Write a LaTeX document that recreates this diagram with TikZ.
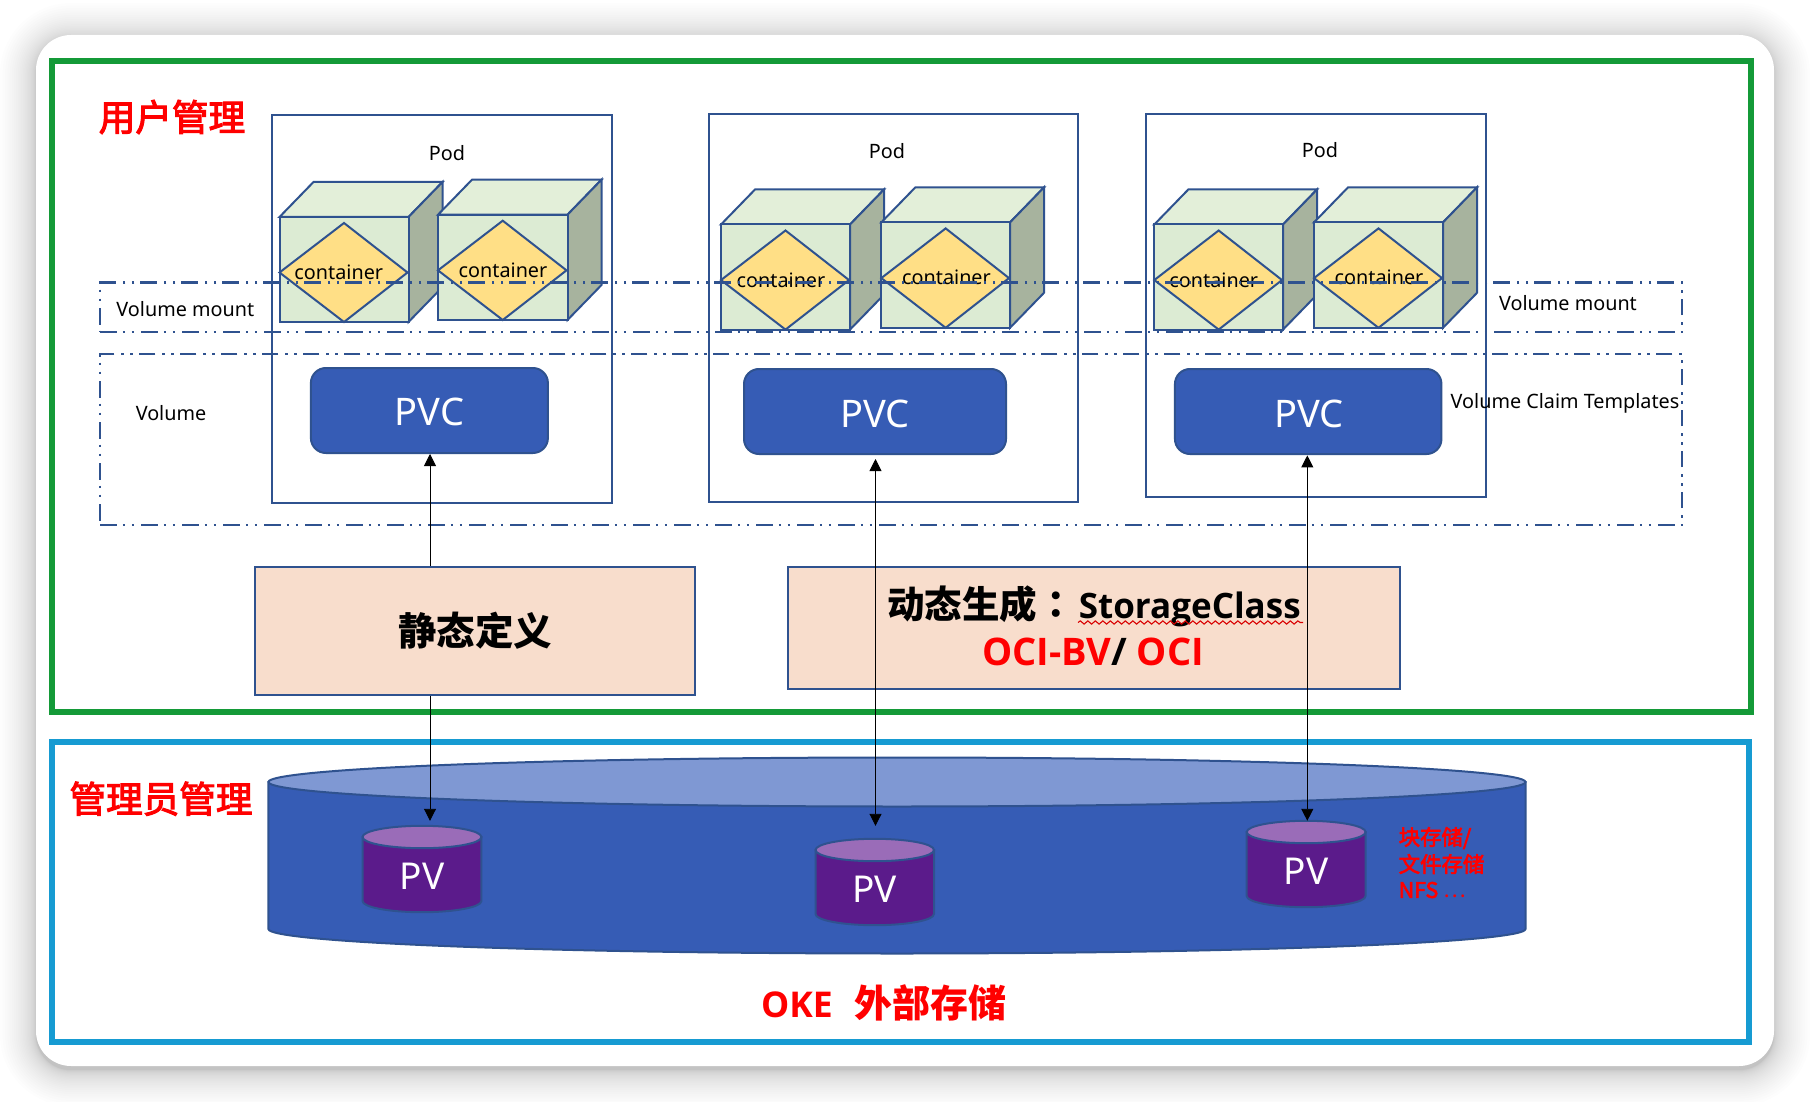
\documentclass[tikz,border=0pt]{standalone}
\usepackage{fontspec}
\setmainfont{Noto Sans}
\newfontfamily\cjk{Noto Sans CJK SC}
\newfontfamily\cjktc{Noto Sans CJK TC}
\newfontfamily\cjkfb[FakeBold=3]{Noto Sans CJK SC}
\newfontfamily\latb{Open Sans}
\usetikzlibrary{arrows.meta,decorations.pathmorphing}
\definecolor{edgeblue}{HTML}{2F528F}
\definecolor{framegreen}{HTML}{149A38}
\definecolor{framecyan}{HTML}{169BD2}
\definecolor{cubefront}{HTML}{DCEBD3}
\definecolor{cubetop}{HTML}{E3EFD9}
\definecolor{cubeside}{HTML}{A7B39E}
\definecolor{gold}{HTML}{FFDF86}
\definecolor{peach}{HTML}{F8DDCC}
\definecolor{pvcblue}{HTML}{365CB5}
\definecolor{disctop}{HTML}{7F98D3}
\definecolor{pvpurple}{HTML}{5B1B8B}
\definecolor{pvtop}{HTML}{9A6CB8}
\newcommand{\fs}[1]{\fontsize{#1}{#1}\selectfont}
\tikzset{
  edge/.style={draw=edgeblue,line width=2pt},
  podbox/.style={edge,fill=none},
  dashbox/.style={draw=edgeblue,line width=2.3pt,dash pattern=on 16.5pt off 6pt on 2.5pt off 6.5pt on 2.5pt off 7pt},
  smalltxt/.style={font=\fs{19.8},text=black,inner sep=0pt},
  pvctxt/.style={font=\fs{38},text=white,inner sep=0pt},
  pvtxt/.style={font=\fs{37},text=white,inner sep=0pt},
  redhead/.style={font=\cjkfb\fs{36.6},text=red,inner sep=0pt},
  link/.style={draw=black,line width=0.9pt,-{Triangle[length=12pt,width=12pt]}},
  linkboth/.style={draw=black,line width=0.9pt,{Triangle[length=12pt,width=12pt]}-{Triangle[length=12pt,width=12pt]}},
}
% cube: x1 x2 (front), y1 y2 (front), label x, label y, name
\newcommand{\cubeshape}[7]{%
  \pgfmathsetmacro{\bx}{#1+34}\pgfmathsetmacro{\bxx}{#2+34}%
  \pgfmathsetmacro{\by}{#3-35}\pgfmathsetmacro{\byy}{#4-35}%
  \pgfmathsetmacro{\mx}{(#1+#2)/2}\pgfmathsetmacro{\my}{(#3+#4)/2+3}%
  \pgfmathsetmacro{\dt}{#3+6}%
  \draw[edge,fill=cubetop,line join=miter] (#1,#3) -- (\bx,\by) -- (\bxx,\by) -- (#2,#3) -- cycle;
  \draw[edge,fill=cubeside] (#2,#3) -- (\bxx,\by) -- (\bxx,\byy) -- (#2,#4) -- cycle;
  \draw[edge,fill=cubefront] (#1,#3) rectangle (#2,#4);
  \draw[edge,fill=gold] (\mx,\dt) -- (#2-1,\my) -- (\mx,#4) -- (#1,\my) -- cycle;
  \node[smalltxt] (#7) at (#5,#6) {container};
}
% drum: x1 x2 ytop ybottom ry fill topfill (y's are the ellipse centres)
\newcommand{\drum}[7]{%
  \pgfmathsetmacro{\rxx}{(#2-#1)/2}%
  \draw[edge,fill=#6] (#1,#3) -- (#1,#4) arc[x radius=\rxx pt,y radius=#5pt,start angle=180,end angle=360] -- (#2,#3) -- cycle;
  \draw[edge,fill=#7] (#1,#3) arc[x radius=\rxx pt,y radius=#5pt,start angle=180,end angle=-180];
}
\begin{document}
\begin{tikzpicture}[x=1pt,y=-1pt]
\useasboundingbox (0,0) rectangle (1810,1102);
\fill[white] (0,0) rectangle (1810,1102);
% soft shadow of the card
\foreach \i in {1,...,30}{
  \pgfmathsetmacro{\g}{36*((31-\i)/30)^2.2}
  \fill[black,opacity=.0062,rounded corners={(35+\g)*1pt}] (36-\g,39-\g) rectangle (1774+\g,1070+\g);
}
\fill[white,rounded corners=35pt] (36,35) rectangle (1774,1066);
% frames
\draw[draw=framegreen,line width=6pt] (52,61.5) rectangle (1751,711.5);
\draw[draw=framecyan,line width=6pt] (52,742) rectangle (1749,1042);
% pods
\node[podbox,minimum width=340pt,minimum height=387.5pt,inner sep=0pt] (pod1) at (441.5,309) {};
\node[podbox,minimum width=369pt,minimum height=387.5pt,inner sep=0pt] (pod2) at (893,308) {};
\node[podbox,minimum width=340pt,minimum height=382.5pt,inner sep=0pt] (pod3) at (1315.5,305.5) {};
\node[smalltxt] (podlabel1) at (447,153) {Pod};
\node[smalltxt] (podlabel2) at (887,151) {Pod};
\node[smalltxt] (podlabel3) at (1320,150) {Pod};
% cubes
\cubeshape{279.5}{408.5}{217}{322}{338.8}{272}{cont1}
\cubeshape{438}{567.5}{214.7}{320}{503}{270}{cont2}
\cubeshape{721}{850}{224.5}{329.6}{781}{280}{cont3}
\cubeshape{881.3}{1010}{222.4}{327.8}{946.5}{277.6}{cont4}
\cubeshape{1154.3}{1283}{224.5}{329.6}{1213.8}{280}{cont5}
\cubeshape{1314}{1443}{222.4}{327.8}{1379}{277.6}{cont6}
% PVC
\node[edge,fill=pvcblue,rounded corners=15pt,minimum width=237pt,minimum height=85pt,inner sep=0pt] (pvc1) at (429.4,410.5) {};
\node[edge,fill=pvcblue,rounded corners=15pt,minimum width=262pt,minimum height=85pt,inner sep=0pt] (pvc2) at (875,411.5) {};
\node[edge,fill=pvcblue,rounded corners=15pt,minimum width=266.5pt,minimum height=85pt,inner sep=0pt] (pvc3) at (1308.2,411.5) {};
\node[pvctxt] (pvclabel1) at (429.4,412) {PVC};
\node[pvctxt] (pvclabel2) at (875,414) {PVC};
\node[pvctxt] (pvclabel3) at (1309,414) {PVC};
% dash-dot regions
\node[dashbox,minimum width=1582pt,minimum height=49.5pt,inner sep=0pt] (mountband) at (891.25,307.25) {};
\node[dashbox,minimum width=1582pt,minimum height=171pt,inner sep=0pt] (volband) at (891.25,439.5) {};
\node[smalltxt] (mountL) at (185.3,309) {Volume mount};
\node[smalltxt] (mountR) at (1568,303) {Volume mount};
\node[smalltxt] (voltxt) at (171,413) {Volume};
\node[smalltxt] (claimtxt) at (1565,403.5) {Volume Claim Templates};
% definition boxes
\node[edge,fill=peach,minimum width=440.5pt,minimum height=128pt,inner sep=0pt] (static) at (474.75,631) {};
\node[font=\cjk\bfseries\fs{38.5},text=black,inner sep=0pt] (statictxt) at (475,631) {静态定义};
\node[edge,fill=peach,minimum width=612pt,minimum height=122pt,inner sep=0pt] (dynamic) at (1093.5,628) {};
\node[inner sep=0pt,text=black] (dynline1) at (1094,606) {{\cjk\bfseries\fs{37.5}动态生成}{\cjktc\bfseries\fs{37.5}：}\hspace{4pt}{\latb\bfseries\fs{35}StorageClass}};
\node[inner sep=0pt,text=red] (dynline2) at (1093,652) {\latb\bfseries\fs{38}OCI-BV{\color{black}/} OCI};
\draw[red!85!black,line width=1.1pt,decorate,decoration={snake,segment length=7.5pt,amplitude=1.6pt}] (1078,622.5) -- (1303,622.5);
% storage
\drum{268.4}{1525.5}{782}{929}{24.5}{pvcblue}{disctop}
\drum{362.5}{481.4}{837}{901}{11.2}{pvpurple}{pvtop}
\drum{815.5}{934}{850}{914}{11.2}{pvpurple}{pvtop}
\drum{1246.7}{1365.6}{832}{896}{11.2}{pvpurple}{pvtop}
\node[pvtxt] (pv1) at (422,876) {PV};
\node[pvtxt] (pv2) at (874.5,889) {PV};
\node[pvtxt] (pv3) at (1306,871) {PV};
\node[font=\cjkfb\fs{21.4},text=red,inner sep=0pt,anchor=west] (t1) at (1398.5,838) {块存储/};
\node[font=\cjkfb\fs{21.4},text=red,inner sep=0pt,anchor=west] (t2) at (1398.5,864) {文件存储};
\node[font=\cjkfb\fs{21.4},text=red,inner sep=0pt,anchor=west] (t3) at (1398.5,890) {NFS {\cjktc …}};
% headings
\node[redhead] (userhead) at (172,117) {用户管理};
\node[redhead] (adminhead) at (161,798.7) {管理员管理};
\node[inner sep=0pt,text=red] (okehead) at (884,1002.5) {\latb\bfseries\fs{35.5}OKE\hspace{22pt}{\cjk\fs{38}外部存储}};
% connectors
\coordinate (tip1) at (430,820.8);
\coordinate (tip2a) at (875.5,459);
\coordinate (tip2b) at (875.5,825.8);
\coordinate (tip3a) at (1307.3,455.4);
\coordinate (tip3b) at (1307.3,820.8);
\draw[link] (static.north -| tip1) -- (tip1 |- pvc1.south);
\draw[link] (static.south -| tip1) -- (tip1);
\draw[linkboth] (tip2a) -- (tip2b);
\draw[linkboth] (tip3a) -- (tip3b);
\end{tikzpicture}
\end{document}
